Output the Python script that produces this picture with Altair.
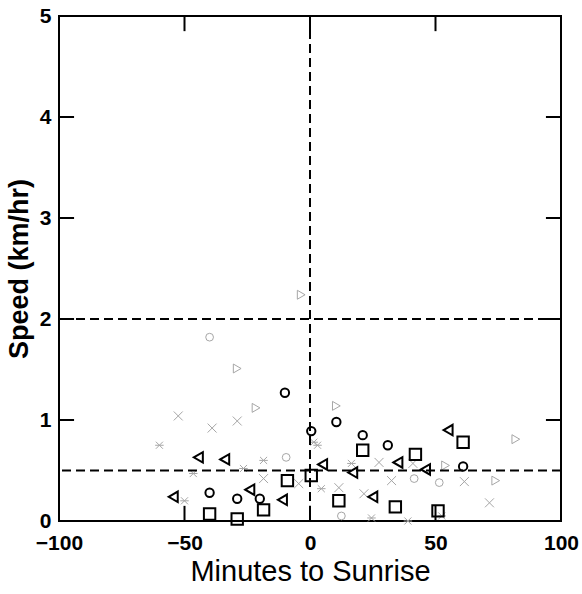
import altair as alt
import pandas as pd

# ---- data ----
sq_x = [-40, -29, -18.5, -9, 0.5, 11.5, 21, 34, 42, 51, 61]
sq_y = [0.07, 0.02, 0.11, 0.40, 0.45, 0.20, 0.70, 0.14, 0.66, 0.10, 0.78]

tl_x = [-54.5, -44.5, -34, -24, -11, 5, 17, 25, 35, 46, 55]
tl_y = [0.24, 0.63, 0.61, 0.31, 0.21, 0.56, 0.48, 0.24, 0.58, 0.51, 0.90]

ci_x = [-40, -29, -20, -10, 0.5, 10.5, 21, 31, 61]
ci_y = [0.28, 0.22, 0.22, 1.27, 0.89, 0.98, 0.85, 0.75, 0.54]

gx_x = [-52.5, -39, -29, -18.5, -4.5, 11.5, 21.5, 27.5, 32.5, 41, 61.5, 71.5]
gx_y = [1.04, 0.92, 0.99, 0.42, 0.37, 0.33, 0.27, 0.58, 0.40, 0.57, 0.39, 0.18]

gt_x = [-29, -21.5, -3.5, 10.5, 54, 74, 82]
gt_y = [1.51, 1.12, 2.24, 1.14, 0.55, 0.40, 0.81]

gc_x = [-40, -9.5, 12.5, 41.5, 51.5]
gc_y = [1.82, 0.63, 0.05, 0.42, 0.38]

gp_x = [-60, -46.5, -50, -26.5, -18.5, 1.5, 3, 4.5, 16.5, 24.5, 39, 52.5]
gp_y = [0.75, 0.47, 0.20, 0.52, 0.60, 0.78, 0.75, 0.32, 0.57, 0.03, 0.00, 0.05]

x_ticks = [-100, -50, 0, 50, 100]
y_ticks = [0, 1, 2, 3, 4, 5]
v_lines = [0]
h_lines = [2, 0.5]

XD = [-100, 100]
YD = [0, 5]
xs = alt.Scale(domain=XD, nice=False, zero=False)
ys = alt.Scale(domain=YD, nice=False, zero=False)

def df(xv, yv):
    return pd.DataFrame({"x": xv, "y": yv})

X_PATH = "M-1,-1L1,1M-1,1L1,-1"
STAR_PATH = "M-1,-1L1,1M-1,1L1,-1M-1.2,0L1.2,0"
FONT = "Liberation Sans"

x_axis = alt.Axis(
    values=x_ticks, title="Minutes to Sunrise", ticks=False, domain=False, grid=False,
    format="d", labelFont=FONT, labelFontSize=21, labelFontWeight="bold", labelColor="black",
    labelPadding=11, titleFont=FONT, titleFontSize=29, titleFontWeight="normal",
    titleColor="black", titlePadding=4, labelFlush=False, labelOverlap=False)
y_axis = alt.Axis(
    values=y_ticks, title="Speed (km/hr)", ticks=False, domain=False, grid=False,
    format="d", labelFont=FONT, labelFontSize=21, labelFontWeight="bold", labelColor="black",
    labelPadding=8, titleFont=FONT, titleFontSize=27, titleFontWeight="bold",
    titleColor="black", titlePadding=6, labelFlush=False, labelOverlap=False)

def pts(xv, yv, shape, color, size, sw, filled=False):
    return alt.Chart(df(xv, yv)).mark_point(
        shape=shape, color=color, filled=filled, size=size, strokeWidth=sw, opacity=1
    ).encode(x=alt.X("x:Q", scale=xs, axis=x_axis), y=alt.Y("y:Q", scale=ys, axis=y_axis))

GRAY = "#a6a6a6"

# dashed reference lines
vdf = pd.DataFrame({"x": v_lines})
hdf = pd.DataFrame({"y": h_lines})
vline = alt.Chart(vdf).mark_rule(color="black", strokeWidth=2, strokeDash=[9, 5]).encode(
    x=alt.X("x:Q", scale=xs, axis=x_axis))
hline = alt.Chart(hdf).mark_rule(color="black", strokeWidth=2, strokeDash=[9, 5]).encode(
    y=alt.Y("y:Q", scale=ys, axis=y_axis))

# inward tick marks on all four sides (segments built from the tick arrays)
inner_x = [v for v in x_ticks if v not in XD]
inner_y = [v for v in y_ticks if v not in YD]
seg_rows = []
for v in inner_x:
    seg_rows.append({"x": v, "x2": v, "y": YD[0], "y2": YD[0] + 0.15})
    seg_rows.append({"x": v, "x2": v, "y": YD[1], "y2": YD[1] - 0.15})
for v in inner_y:
    seg_rows.append({"x": XD[0], "x2": XD[0] + 6, "y": v, "y2": v})
    seg_rows.append({"x": XD[1], "x2": XD[1] - 6, "y": v, "y2": v})
segs = pd.DataFrame(seg_rows)
ticks = alt.Chart(segs).mark_rule(color="black", strokeWidth=2).encode(
    x=alt.X("x:Q", scale=xs, axis=x_axis), x2=alt.X2("x2"),
    y=alt.Y("y:Q", scale=ys, axis=y_axis), y2=alt.Y2("y2"))

chart = alt.layer(
    ticks,
    pts(gx_x, gx_y, X_PATH, GRAY, 80, 1),
    pts(gp_x, gp_y, STAR_PATH, GRAY, 50, 1),
    pts(gt_x, gt_y, "triangle-right", GRAY, 80, 1),
    pts(gc_x, gc_y, "circle", GRAY, 60, 1),
    vline, hline,
    pts(sq_x, sq_y, "square", "black", 130, 2),
    pts(tl_x, tl_y, "triangle-left", "black", 110, 2),
    pts(ci_x, ci_y, "circle", "black", 70, 2),
).properties(
    width=502, height=505,
    autosize=alt.AutoSizeParams(type="none"),
    padding={"left": 59, "top": 16, "right": 21, "bottom": 73},
    background="white",
).configure_view(stroke="black", strokeWidth=2)

chart.save("out.html", embed_options={"renderer": "svg", "actions": False})
